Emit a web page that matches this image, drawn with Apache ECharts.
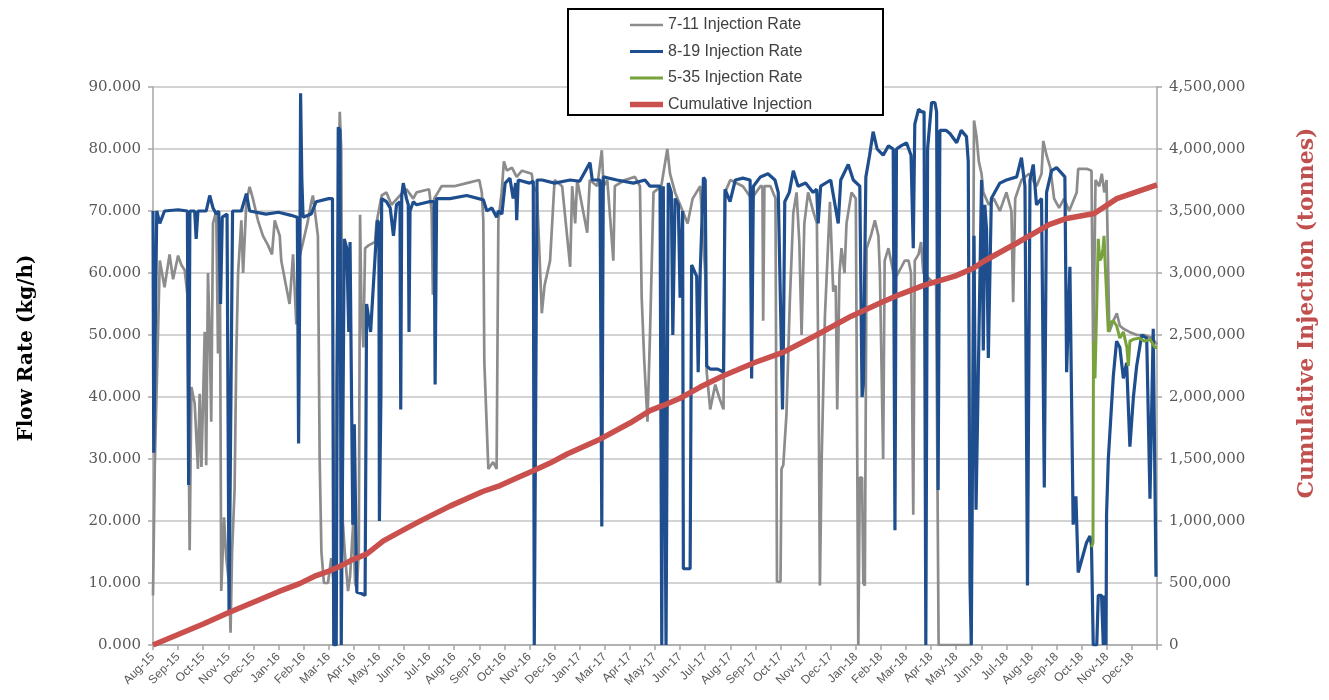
<!DOCTYPE html>
<html><head><meta charset="utf-8">
<script src="https://cdn.jsdelivr.net/npm/echarts/dist/echarts.min.js"></script>
<style>html,body{margin:0;padding:0;background:#fff}#chart{width:1329px;height:700px}</style>
</head><body><div id="chart"></div>
<script>
// x positions are in axis tick units (one tick = 31 days, tick 0 = "Aug-15")
const tickLabels = ['Aug-15','Sep-15','Oct-15','Nov-15','Dec-15','Jan-16','Feb-16','Mar-16','Apr-16','May-16','Jun-16','Jul-16','Aug-16','Sep-16','Oct-16','Nov-16','Dec-16','Jan-17','Mar-17','Apr-17','May-17','Jun-17','Jul-17','Aug-17','Sep-17','Oct-17','Nov-17','Dec-17','Jan-18','Feb-18','Mar-18','Apr-18','May-18','Jun-18','Jul-18','Aug-18','Sep-18','Oct-18','Nov-18','Dec-18'];

const seriesNames = ['7-11 Injection Rate','8-19 Injection Rate','5-35 Injection Rate','Cumulative Injection'];

// kg/h
const rate711 = [[0,8000],[0.07,28700],[0.27,62000],[0.46,57700],[0.66,63000],[0.8,59000],[1.0,62800],[1.13,61300],[1.26,60500],[1.37,56500],[1.46,15300],[1.53,41600],[1.66,39000],[1.79,28400],[1.86,40500],[1.93,28700],[2.06,50500],[2.12,29000],[2.19,60000],[2.26,50000],[2.32,36000],[2.39,68000],[2.52,70000],[2.59,47000],[2.66,65000],[2.72,8700],[2.83,20600],[2.92,14000],[3.03,10000],[3.09,2000],[3.15,15000],[3.25,25000],[3.32,47000],[3.39,60000],[3.52,68500],[3.59,60000],[3.72,71500],[3.85,73900],[3.98,72000],[4.18,68500],[4.38,66000],[4.58,64500],[4.74,63000],[4.85,68500],[5.05,66000],[5.11,62000],[5.25,59000],[5.44,55000],[5.58,63000],[5.71,51700],[5.8,62000],[5.98,65000],[6.15,68000],[6.31,71500],[6.37,72500],[6.57,66000],[6.64,30000],[6.71,15000],[6.81,10000],[6.97,10000],[7.1,14000],[7.2,10000],[7.3,40000],[7.44,86000],[7.5,80000],[7.56,20000],[7.64,15000],[7.77,8700],[7.85,11000],[7.98,20000],[8.05,10000],[8.12,9000],[8.2,15000],[8.25,69400],[8.3,55000],[8.38,48000],[8.45,64000],[8.6,64500],[8.85,65000],[8.9,68000],[9.11,72500],[9.3,73000],[9.5,71000],[9.84,72500],[10.1,73500],[10.37,72000],[10.5,73000],[11.0,73500],[11.1,70000],[11.15,56500],[11.2,72000],[11.5,74000],[12.0,74000],[12.5,74500],[13.0,75000],[13.1,73000],[13.16,68500],[13.2,45700],[13.36,28400],[13.55,29500],[13.69,28400],[13.76,68500],[13.89,73000],[13.98,78000],[14.1,76500],[14.3,77000],[14.49,75500],[14.7,76500],[15.09,76000],[15.15,74000],[15.3,73000],[15.49,53500],[15.6,58000],[15.82,62000],[16.0,75000],[16.3,74000],[16.62,61000],[16.7,74000],[16.82,68000],[16.9,75000],[17.3,66500],[17.4,75000],[17.7,74000],[17.88,79800],[17.95,74000],[18.1,75000],[18.34,62000],[18.4,74000],[18.8,75000],[19.2,75500],[19.4,74000],[19.47,56000],[19.57,46000],[19.7,36000],[19.8,50000],[19.94,73000],[20.25,74000],[20.49,80000],[20.6,76000],[20.8,73000],[21.1,70000],[21.3,68000],[21.5,72000],[21.8,74000],[22.0,60000],[22.06,44000],[22.2,38000],[22.4,42000],[22.55,40000],[22.73,38000],[22.79,73000],[23.0,75000],[23.5,74000],[23.85,72000],[24.2,74000],[24.28,74000],[24.31,52300],[24.36,74000],[24.6,74000],[24.8,72000],[24.86,10200],[25.0,10200],[25.04,28400],[25.11,29000],[25.24,37400],[25.37,55300],[25.51,69700],[25.64,73000],[25.75,65000],[25.84,50000],[25.95,68000],[26.1,73000],[26.3,70000],[26.45,68000],[26.52,40000],[26.57,9600],[26.64,30000],[26.77,53000],[26.97,71500],[27.1,57000],[27.2,58000],[27.26,38000],[27.35,60000],[27.43,64000],[27.55,60000],[27.63,68000],[27.83,73000],[28.0,72000],[28.1,0],[28.16,27000],[28.25,27000],[28.3,10000],[28.36,9600],[28.43,64000],[28.6,66000],[28.76,68500],[28.9,66000],[28.96,60000],[29.09,30000],[29.15,62000],[29.3,64000],[29.5,60000],[29.62,59500],[29.82,61000],[29.95,62000],[30.1,62000],[30.2,60000],[30.29,21000],[30.35,62000],[30.5,63000],[30.6,65000],[30.69,60000],[31.2,58000],[31.3,0],[32.6,0],[32.71,84600],[32.81,82000],[32.9,78000],[33.01,76000],[33.08,73000],[33.3,71000],[33.5,72000],[33.74,70000],[34.0,73000],[34.2,70000],[34.27,55300],[34.35,72000],[34.6,75000],[34.9,76000],[35.2,74000],[35.4,76000],[35.47,81300],[35.6,79000],[35.75,77000],[35.9,72000],[36.1,70500],[36.3,72000],[36.5,70000],[36.8,73000],[36.86,76800],[37.2,76800],[37.39,76500],[37.46,46000],[37.55,75000],[37.7,74000],[37.8,76000],[37.9,73000],[37.99,75000],[38.1,50500],[38.26,52300],[38.4,53500],[38.52,51500],[38.66,51000],[38.9,50500],[39.2,50000],[39.5,50000],[39.8,49500],[40.0,48500]];

const rate819 = [[0,70000],[0.03,31000],[0.1,31000],[0.15,70000],[0.27,68000],[0.46,70000],[1.0,70200],[1.37,70000],[1.42,25800],[1.47,70000],[1.66,70000],[1.72,65500],[1.79,70000],[2.12,70000],[2.26,72500],[2.39,70500],[2.52,69500],[2.62,70000],[2.69,55000],[2.76,69000],[2.95,69500],[3.03,5500],[3.1,5500],[3.17,70000],[3.52,70000],[3.72,72800],[3.85,70000],[4.5,69500],[5.0,69800],[5.5,69300],[5.75,69000],[5.8,32500],[5.85,60000],[5.88,89000],[5.93,75000],[5.98,69000],[6.3,69500],[6.5,71500],[7.0,72000],[7.15,72000],[7.2,0],[7.3,0],[7.38,83500],[7.45,83000],[7.5,0],[7.55,0],[7.62,65500],[7.72,64000],[7.8,50500],[7.85,65000],[7.96,19400],[8.02,35600],[8.12,8500],[8.3,8300],[8.45,8000],[8.51,55000],[8.67,50500],[8.75,56000],[8.89,65500],[8.94,68500],[9.0,68000],[9.02,20000],[9.08,40000],[9.11,72000],[9.3,71500],[9.45,70500],[9.58,66000],[9.7,71000],[9.84,71500],[9.87,38000],[9.91,72500],[9.97,74500],[10.1,72000],[10.17,71000],[10.2,50500],[10.24,70000],[10.37,71500],[10.5,71000],[11.0,71500],[11.2,71500],[11.24,42000],[11.3,72000],[11.83,72000],[12.5,72500],[13.16,71800],[13.3,70000],[13.5,70500],[13.69,69000],[13.76,70000],[13.9,69500],[14.03,74500],[14.22,75300],[14.35,72000],[14.45,74500],[14.49,68500],[14.55,75000],[15.0,74500],[15.15,74800],[15.19,0],[15.25,0],[15.3,75000],[15.5,75000],[16.0,74500],[16.62,75000],[17.0,74800],[17.41,77800],[17.5,75000],[17.81,75000],[17.88,19100],[17.94,75500],[18.48,75000],[19.14,74500],[19.6,75000],[19.8,74000],[20.2,74000],[20.27,0],[20.33,74000],[20.4,74000],[20.44,0],[20.53,74500],[20.65,73000],[20.71,50000],[20.8,72000],[20.93,71000],[21.0,56000],[21.1,70000],[21.13,12300],[21.4,12300],[21.46,61300],[21.6,60000],[21.66,59500],[21.72,44000],[21.8,60000],[21.93,75400],[22.0,75000],[22.06,45000],[22.2,44500],[22.5,44500],[22.73,44000],[22.79,73500],[22.99,71500],[23.2,75000],[23.5,75300],[23.79,75000],[23.85,43000],[23.92,74000],[24.2,75500],[24.5,76000],[24.78,75000],[24.91,73000],[25.0,55000],[25.08,38000],[25.12,50000],[25.17,71500],[25.35,73000],[25.51,76500],[25.7,74000],[26.0,74500],[26.3,73000],[26.44,73500],[26.5,68000],[26.6,74000],[27.0,75000],[27.3,68000],[27.4,75000],[27.7,77500],[27.9,75000],[28.16,74000],[28.25,40000],[28.3,42000],[28.4,75500],[28.55,79000],[28.69,82800],[28.85,80000],[29.09,79000],[29.3,80500],[29.49,80000],[29.56,18500],[29.62,80000],[29.8,80500],[30.02,81000],[30.2,79000],[30.29,64000],[30.35,84000],[30.5,86400],[30.62,86000],[30.72,86000],[30.79,0],[30.86,80000],[31.02,87500],[31.15,87500],[31.22,86000],[31.28,25000],[31.35,83000],[31.6,83000],[31.75,82500],[32.02,81000],[32.2,83000],[32.41,82000],[32.48,78000],[32.55,10000],[32.6,0],[32.65,0],[32.71,66000],[32.79,21800],[33.01,75000],[33.08,47500],[33.14,71000],[33.21,67000],[33.28,46300],[33.4,72000],[33.74,74500],[34.0,75000],[34.41,75500],[34.6,78600],[34.74,74000],[34.84,9600],[34.94,75000],[35.07,77500],[35.2,71000],[35.4,72000],[35.51,25400],[35.6,73000],[35.8,76500],[36.0,77000],[36.33,75500],[36.4,44000],[36.53,61000],[36.66,19400],[36.77,24000],[36.86,11700],[37.19,16500],[37.33,17600],[37.39,16000],[37.46,0],[37.6,0],[37.66,8000],[37.79,8000],[37.86,0],[37.89,8000],[37.97,0],[37.99,21000],[38.06,30000],[38.26,43400],[38.39,49000],[38.52,48000],[38.66,43000],[38.79,45500],[38.92,32000],[39.06,40000],[39.19,45000],[39.39,50000],[39.59,49500],[39.72,23600],[39.85,51000],[39.96,11000]];

const rate535 = [[37.39,15800],[37.45,16500],[37.47,49000],[37.53,43000],[37.6,55000],[37.66,65500],[37.72,62000],[37.79,62500],[37.85,64000],[37.89,66000],[37.93,62000],[38.06,50500],[38.15,52000],[38.26,52300],[38.39,51500],[38.52,49500],[38.66,50500],[38.8,48000],[38.86,45000],[38.92,49000],[39.06,49300],[39.3,49500],[39.5,49000],[39.72,49300],[39.92,48000],[40.0,48000]];

// tonnes
const cumulative = [[0,0],[1,85000],[2,170000],[3,260000],[4,345000],[5,430000],[5.84,495000],[6.5,560000],[7.04,598000],[7.5,640000],[7.97,690000],[8.51,733000],[9.18,840000],[10.0,930000],[10.6,995000],[11.83,1120000],[13.16,1240000],[13.83,1286000],[14.49,1346000],[15.15,1405000],[15.8,1465000],[16.5,1540000],[17.81,1660000],[19.0,1790000],[19.8,1890000],[20.3,1930000],[21.0,1990000],[21.8,2080000],[22.7,2170000],[24.0,2280000],[25.1,2360000],[26.44,2500000],[27.8,2650000],[29.1,2770000],[29.8,2830000],[30.7,2900000],[31.95,2975000],[32.7,3040000],[33.1,3095000],[34.4,3240000],[35.7,3390000],[36.4,3440000],[37.5,3480000],[38.4,3600000],[40,3710000]];

const colors = ['#8c8c8c','#1f4e8e','#78a33c','#c9504d'];
const lineWidths = [2.7, 3.2, 3, 5.5];
const axisGray = '#a6a6a6';
const serif = 'DejaVu Serif';

const chart = echarts.init(document.getElementById('chart'), null, {renderer:'canvas'});
chart.setOption({
  animation: false,
  backgroundColor: '#fff',
  grid: {left: 153, right: 172, top: 87, bottom: 55, containLabel: false},
  legend: {
    orient: 'vertical', left: 630, top: 17, z: 60, padding: 0,
    itemWidth: 33, itemHeight: 12, itemGap: 10.5, symbolKeepAspect: true,
    textStyle: {fontFamily: 'Liberation Sans', fontSize: 16, color: '#404040'},
    data: seriesNames.map((n, i) => ({name: n, icon: 'path://M0,0H33V' + lineWidths[i] + 'H0Z'}))
  },
  graphic: [
    {type:'rect', z: 50, shape:{x:568, y:9, width:315, height:106}, style:{fill:'#fff', stroke:'#000', lineWidth:2}},
    {type:'text', z: 50, x: 27, y: 348, rotation: Math.PI/2,
     style:{text:'Flow Rate (kg/h)', font:'bold 20px "DejaVu Serif"', fill:'#000', textAlign:'center', textVerticalAlign:'middle'}},
    {type:'text', z: 50, x: 1307, y: 313, rotation: Math.PI/2,
     style:{text:'Cumulative Injection (tonnes)', font:'bold 22px "DejaVu Serif"', fill:'#c0504d', textAlign:'center', textVerticalAlign:'middle'}}
  ],
  xAxis: {
    type: 'value', min: 0, max: 40, interval: 1,
    axisLine: {show: true, lineStyle: {color: axisGray, width: 1.5}},
    axisTick: {show: true, length: 5, lineStyle: {color: axisGray, width: 1.5}},
    axisLabel: {rotate: 45, margin: 10, fontFamily: 'Liberation Sans', fontSize: 12, color: '#595959',
      showMinLabel: true, showMaxLabel: true,
      formatter: v => (tickLabels[Math.round(v)] !== undefined ? tickLabels[Math.round(v)] : '')},
    splitLine: {show: false}
  },
  yAxis: [
    {type: 'value', min: 0, max: 90000, interval: 10000, position: 'left',
     axisLine: {show: true, lineStyle: {color: axisGray, width: 1.5}},
     axisTick: {show: true, length: 5, lineStyle: {color: axisGray, width: 1.5}},
     axisLabel: {margin: 12, fontFamily: serif, fontSize: 15, color: '#595959', formatter: v => (v/1000).toFixed(3)},
     splitLine: {show: true, lineStyle: {color: '#c4c4c4', width: 1.5}}},
    {type: 'value', min: 0, max: 4500000, interval: 500000, position: 'right',
     axisLine: {show: true, lineStyle: {color: axisGray, width: 1.5}},
     axisTick: {show: true, length: 5, lineStyle: {color: axisGray, width: 1.5}},
     axisLabel: {margin: 12, fontFamily: serif, fontSize: 15, color: '#595959', formatter: v => v.toLocaleString('en-US')},
     splitLine: {show: false}}
  ],
  series: seriesNames.map((n, i) => ({
    name: n, type: 'line',
    data: [rate711, rate819, rate535, cumulative][i],
    yAxisIndex: i === 3 ? 1 : 0,
    symbol: 'none', showSymbol: false, z: 2 + i,
    lineStyle: {color: colors[i], width: lineWidths[i]},
    itemStyle: {color: colors[i]}
  }))
});
</script>
</body></html>
